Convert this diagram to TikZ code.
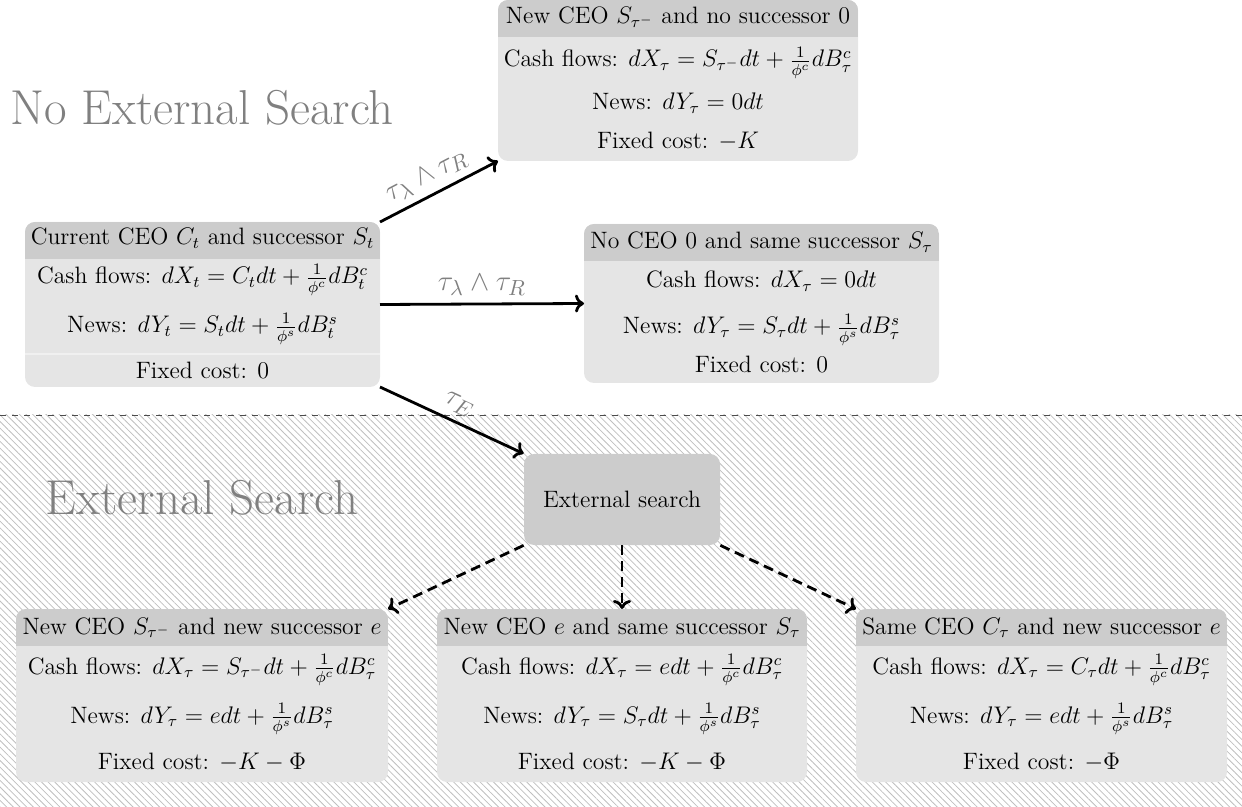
\documentclass[tikz,border=0pt]{standalone}
\usetikzlibrary{patterns,patterns.meta,fit,arrows.meta}
\newcommand\bodyfont{\fontsize{11.85}{14}\selectfont}
\newcommand\labelfont{\fontsize{15}{18}\selectfont}
\newcommand\titlefont{\fontsize{24.5}{29}\selectfont}
\tikzset{
  stbody/.style={fill=gray!20, rounded corners=5pt, inner sep=0pt, outer sep=0pt},
  sttext/.style={anchor=base, inner sep=0pt, font=\bodyfont},
  tip/.tip={To[length=4.5pt, width=9pt]},
  trans/.style={line width=1.4pt, -tip},
  searchtrans/.style={line width=1.4pt, -tip, dash pattern=on 5pt off 3pt},
  elabel/.style={text=gray, font=\labelfont},
  bigtitle/.style={text=gray, font=\titlefont, anchor=base, inner sep=0pt}
}
\newcommand\stbox[5]{%
  \node[stbody, fit={(#2,#3) (#4,#5)}] (#1) {};
  \begin{scope}
    \clip[rounded corners=5pt] (#1.north west) rectangle (#1.south east);
    \fill[gray!40] (#1.north west) rectangle ([yshift=-18.5pt]#1.north east);
  \end{scope}}
\begin{document}
\begin{tikzpicture}[x=0.5pt,y=-0.5pt]
\useasboundingbox (0,0) rectangle (1242,807);
% external search region
\fill[pattern={Lines[angle=-45, distance=2.35pt, line width=0.4pt]}, pattern color=gray!50] (0,415) rectangle (1242,807);
\draw[dashed, black!70] (0,415) -- (1242,415);
% titles
\node[bigtitle] (t1) at (202,125) {No External Search};
\node[bigtitle] (t2) at (202,515) {External Search};
% current state
\stbox{b1}{25}{222}{380}{387}
\draw[gray!12, line width=0.6pt] (25,354) -- (380,354);
\node[sttext] (b1h) at (202.5,245) {Current CEO $C_t$ and successor $S_t$};
\node[sttext] (b1c) at (202.5,284) {Cash flows: $dX_t = C_t dt + \frac{1}{\phi^c} dB^c_t$};
\node[sttext] (b1n) at (202.5,333) {News: $dY_t = S_t dt + \frac{1}{\phi^s} dB^s_t$};
\node[sttext] (b1f) at (202.5,379) {Fixed cost: $0$};
% top box
\stbox{top}{498}{0}{858}{161}
\node[sttext] (toph) at (678,24) {New CEO $S_{\tau^-}$ and no successor $0$};
\node[sttext] (topc) at (678,67) {Cash flows: $dX_\tau = S_{\tau^-} dt + \frac{1}{\phi^c} dB^c_\tau$};
\node[sttext] (topn) at (678,110) {News: $dY_\tau = 0dt$};
\node[sttext] (topf) at (678,149) {Fixed cost: $-K$};
% middle right box
\stbox{mr}{584}{224}{939}{383}
\node[sttext] (mrh) at (761.5,249) {No CEO $0$ and same successor $S_\tau$};
\node[sttext] (mrc) at (761.5,288) {Cash flows: $dX_\tau = 0dt$};
\node[sttext] (mrn) at (761.5,334) {News: $dY_\tau = S_\tau dt + \frac{1}{\phi^s} dB^s_\tau$};
\node[sttext] (mrf) at (761.5,373) {Fixed cost: $0$};
% external search
\node[fill=gray!40, rounded corners=5pt, minimum width=98pt, minimum height=45.5pt, inner sep=0pt, font=\bodyfont] (ext) at (622,499.5) {External search};
% bottom left
\stbox{bl}{16}{609}{388}{782}
\node[sttext] (blh) at (202,634) {New CEO $S_{\tau^-}$ and new successor $e$};
\node[sttext] (blc) at (202,674) {Cash flows: $dX_\tau = S_{\tau^-} dt + \frac{1}{\phi^c} dB^c_\tau$};
\node[sttext] (bln) at (202,723) {News: $dY_\tau = edt + \frac{1}{\phi^s} dB^s_\tau$};
\node[sttext] (blf) at (202,769) {Fixed cost: $-K-\Phi$};
% bottom middle
\stbox{bm}{437}{609}{807}{782}
\node[sttext] (bmh) at (622,634) {New CEO $e$ and same successor $S_\tau$};
\node[sttext] (bmc) at (622,674) {Cash flows: $dX_\tau = edt + \frac{1}{\phi^c} dB^c_\tau$};
\node[sttext] (bmn) at (622,723) {News: $dY_\tau = S_\tau dt + \frac{1}{\phi^s} dB^s_\tau$};
\node[sttext] (bmf) at (622,769) {Fixed cost: $-K-\Phi$};
% bottom right
\stbox{br}{856}{609}{1227}{782}
\node[sttext] (brh) at (1041.5,634) {Same CEO $C_\tau$ and new successor $e$};
\node[sttext] (brc) at (1041.5,674) {Cash flows: $dX_\tau = C_\tau dt + \frac{1}{\phi^c} dB^c_\tau$};
\node[sttext] (brn) at (1041.5,723) {News: $dY_\tau = edt + \frac{1}{\phi^s} dB^s_\tau$};
\node[sttext] (brf) at (1041.5,769) {Fixed cost: $-\Phi$};
% transitions
\draw[trans] (b1.north east) -- node[elabel, sloped, above, pos=0.47] {$\tau_\lambda \wedge \tau_R$} (top.south west);
\draw[trans] (b1.east) -- node[elabel, above] {$\tau_\lambda \wedge \tau_R$} (mr.west);
\draw[trans] (b1.south east) -- node[elabel, sloped, above, pos=0.5] {$\tau_E$} (ext.north west);
\draw[searchtrans] (ext.south west) -- (bl.north east);
\draw[searchtrans] (ext.south) -- (bm.north);
\draw[searchtrans] (ext.south east) -- (br.north west);
\end{tikzpicture}
\end{document}
